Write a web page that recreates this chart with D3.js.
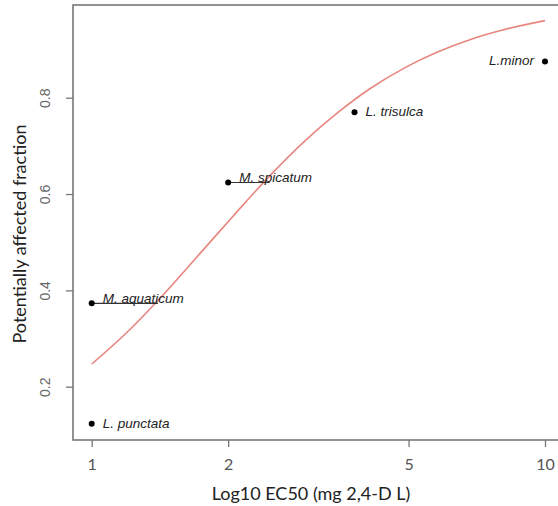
<!DOCTYPE html>
<html>
<head>
<meta charset="utf-8">
<script src="https://cdn.jsdelivr.net/npm/d3@7"></script>
<style>
  body { margin: 0; background: #fff; }
  svg { display: block; }
</style>
</head>
<body>
<script>
// species points
const species = ['L. punctata', 'M. aquaticum', 'M. spicatum', 'L. trisulca', 'L.minor'];
const ec50 = [1, 1, 2, 3.8, 10];
const paf = [0.123, 0.373, 0.624, 0.77, 0.875];
const ec50High = [null, 1.4, 2.47, null, null];

// fitted curve
const curveX = [1, 1.2, 1.4, 1.75, 2.05, 2.5, 2.95, 3.5, 4.1, 4.9, 6.9, 8.1, 10];
const curveY = [0.247, 0.314, 0.379, 0.481, 0.554, 0.643, 0.71, 0.77, 0.818, 0.862, 0.922, 0.941, 0.96];

const xTicks = [1, 2, 5, 10];
const yTicks = [0.2, 0.4, 0.6, 0.8];

const W = 558, H = 506;
const box = { left: 73, top: 5, right: 562, bottom: 440 };

const svg = d3.select('body').append('svg')
  .attr('width', W)
  .attr('height', H);

const x = d3.scaleLog().domain([1, 10]).range([91.7, 545]);
const y = d3.scaleLinear().domain([0.2, 0.8]).range([386.7, 97.7]);

// plot frame
svg.append('rect')
  .attr('x', box.left)
  .attr('y', box.top)
  .attr('width', box.right - box.left)
  .attr('height', box.bottom - box.top)
  .attr('fill', 'none')
  .attr('stroke', '#777')
  .attr('stroke-width', 1.6);

// x axis
const xAxis = svg.append('g')
  .attr('transform', `translate(0,${box.bottom})`)
  .call(d3.axisBottom(x).tickValues(xTicks).tickFormat(d3.format('d')).tickSize(7).tickPadding(12));
xAxis.select('.domain').remove();
xAxis.selectAll('line').attr('stroke', '#777').attr('stroke-width', 1.3);
xAxis.selectAll('text')
  .attr('fill', '#555')
  .style('font-family', 'Lato, "Open Sans", sans-serif')
  .style('font-size', '16px');

// y axis
const yAxis = svg.append('g')
  .attr('transform', `translate(${box.left},0)`)
  .call(d3.axisLeft(y).tickValues(yTicks).tickFormat(d3.format('.1f')).tickSize(7));
yAxis.select('.domain').remove();
yAxis.selectAll('line').attr('stroke', '#777').attr('stroke-width', 1.3);
yAxis.selectAll('text')
  .attr('fill', '#666')
  .attr('x', 0)
  .attr('y', 0)
  .attr('dy', '0.35em')
  .attr('text-anchor', 'middle')
  .attr('transform', 'translate(-28,0) rotate(-90)')
  .style('font-family', '"Liberation Sans", Arial, sans-serif')
  .style('font-size', '14px');

// axis titles
svg.append('text')
  .attr('x', 311)
  .attr('y', 500)
  .attr('text-anchor', 'middle')
  .attr('fill', '#222')
  .style('font-family', 'Lato, "Open Sans", sans-serif')
  .style('font-size', '18px')
  .text('Log10 EC50 (mg 2,4-D L)');

svg.append('text')
  .attr('transform', 'translate(26,234) rotate(-90)')
  .attr('text-anchor', 'middle')
  .attr('fill', '#222')
  .style('font-family', 'Lato, "Open Sans", sans-serif')
  .style('font-size', '18px')
  .text('Potentially affected fraction');

// fitted curve
const curvePts = curveX.map((v, i) => [v, curveY[i]]);
svg.append('path')
  .datum(curvePts)
  .attr('fill', 'none')
  .attr('stroke', '#e8857e')
  .attr('stroke-width', 1.6)
  .attr('d', d3.line().x(d => x(d[0])).y(d => y(d[1])).curve(d3.curveMonotoneX));

// range segments
const pts = species.map((s, i) => ({ name: s, ec: ec50[i], p: paf[i], hi: ec50High[i] }));

svg.append('g')
  .selectAll('line')
  .data(pts.filter(d => d.hi))
  .join('line')
  .attr('x1', d => x(d.ec))
  .attr('x2', d => x(d.hi))
  .attr('y1', d => y(d.p))
  .attr('y2', d => y(d.p))
  .attr('stroke', '#333')
  .attr('stroke-width', 1.1);

// points
svg.append('g')
  .selectAll('circle')
  .data(pts)
  .join('circle')
  .attr('cx', d => x(d.ec))
  .attr('cy', d => y(d.p))
  .attr('r', 3)
  .attr('fill', '#000');

// labels
svg.append('g')
  .selectAll('text')
  .data(pts)
  .join('text')
  .attr('x', d => d.name === 'L.minor' ? x(d.ec) - 11 : x(d.ec) + 11)
  .attr('y', d => y(d.p) + (d.hi ? -5 : -1))
  .attr('dy', '0.35em')
  .attr('text-anchor', d => d.name === 'L.minor' ? 'end' : 'start')
  .attr('fill', '#222')
  .style('font-family', '"Liberation Sans", Arial, sans-serif')
  .style('font-style', 'italic')
  .style('font-size', '13.5px')
  .text(d => d.name);
</script>
</body>
</html>
